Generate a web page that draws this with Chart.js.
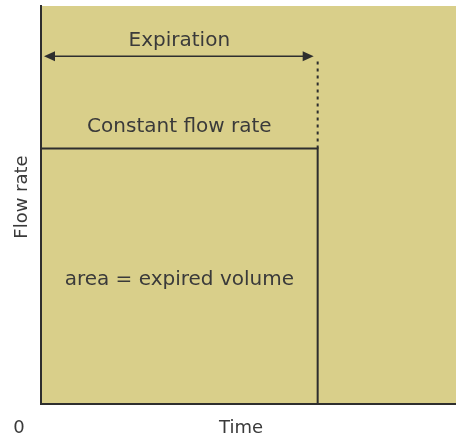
<!DOCTYPE html>
<html>
<head>
<meta charset="utf-8">
<script src="https://cdn.jsdelivr.net/npm/chart.js@4.4.0/dist/chart.umd.min.js"></script>
<style>
  html, body { margin: 0; padding: 0; background: #ffffff; }
  #wrap { width: 456px; height: 438px; }
</style>
</head>
<body>
<div id="wrap"><canvas id="flowPlot"></canvas></div>
<script>
// step profile of the expiration
const timeValues = [0, 1, 1];
const flowValues = [1, 1, 0];
// dotted marker at end of expiration
const markerTime = [1, 1];
const markerFlow = [1, 1.35];
// double arrow span
const arrowTime = [0, 1];
const arrowFlow = 1.36;
const axisMax = { x: 1.5, y: 1.557 };

// annotation texts (y = baseline)
const textLabels = [
    { text: "Expiration", x: 0.5, y: 1.40 },
    { text: "Constant flow rate", x: 0.5, y: 1.063 },
    { text: "area = expired volume", x: 0.5, y: 0.467 }
];

const ink = "#2e2e2e";
const fontFamily = "'DejaVu Sans', sans-serif";

const decor = {
    id: "decor",
    beforeDraw(chart) {
        const { ctx, chartArea } = chart;
        ctx.save();
        ctx.fillStyle = "#d9cf8a";
        ctx.fillRect(chartArea.left, chartArea.top, chartArea.right - chartArea.left, chartArea.bottom - chartArea.top);
        ctx.restore();
    },
    afterDraw(chart) {
        const { ctx, scales } = chart;
        const xs = scales.x, ys = scales.y;
        ctx.save();
        // arrow
        const ay = ys.getPixelForValue(arrowFlow);
        const x0 = xs.getPixelForValue(arrowTime[0]) + 3;
        const x1 = xs.getPixelForValue(arrowTime[1]) - 4;
        ctx.strokeStyle = ink;
        ctx.fillStyle = ink;
        ctx.lineWidth = 1.5;
        ctx.beginPath();
        ctx.moveTo(x0 + 8, ay);
        ctx.lineTo(x1 - 8, ay);
        ctx.stroke();
        ctx.beginPath();
        ctx.moveTo(x0, ay);
        ctx.lineTo(x0 + 11, ay - 5);
        ctx.lineTo(x0 + 11, ay + 5);
        ctx.closePath();
        ctx.fill();
        ctx.beginPath();
        ctx.moveTo(x1, ay);
        ctx.lineTo(x1 - 11, ay - 5);
        ctx.lineTo(x1 - 11, ay + 5);
        ctx.closePath();
        ctx.fill();
        // texts
        ctx.fillStyle = "#3a3a3a";
        ctx.font = "20px " + fontFamily;
        ctx.textAlign = "center";
        ctx.textBaseline = "alphabetic";
        textLabels.forEach(function (l) {
            ctx.fillText(l.text, xs.getPixelForValue(l.x), ys.getPixelForValue(l.y));
        });
        ctx.font = "18px " + fontFamily;
        ctx.fillText("0", 19, 433);
        ctx.fillText("Time", 241, 433);
        ctx.translate(27, 197);
        ctx.rotate(-Math.PI / 2);
        ctx.fillText("Flow rate", 0, 0);
        ctx.restore();
    }
};

const ctx = document.getElementById("flowPlot");
new Chart(ctx, {
    type: "line",
    data: {
        datasets: [{
            data: timeValues.map((t, i) => ({ x: t, y: flowValues[i] })),
            borderColor: ink,
            borderWidth: 2,
            pointRadius: 0,
            fill: false,
            tension: 0
        }, {
            data: markerTime.map((t, i) => ({ x: t, y: markerFlow[i] })),
            borderColor: ink,
            borderWidth: 2,
            borderDash: [3, 4],
            pointRadius: 0,
            fill: false
        }]
    },
    options: {
        responsive: true,
        maintainAspectRatio: false,
        animation: false,
        layout: { padding: { left: 33, top: 6, right: 0, bottom: 26 } },
        plugins: { legend: { display: false }, tooltip: { enabled: false } },
        scales: {
            x: {
                type: "linear", min: 0, max: axisMax.x,
                grid: { display: false },
                ticks: { display: false },
                border: { display: true, color: ink, width: 2 }
            },
            y: {
                type: "linear", min: 0, max: axisMax.y,
                grid: { display: false },
                ticks: { display: false },
                border: { display: true, color: ink, width: 2 }
            }
        }
    },
    plugins: [decor]
});
</script>
</body>
</html>
